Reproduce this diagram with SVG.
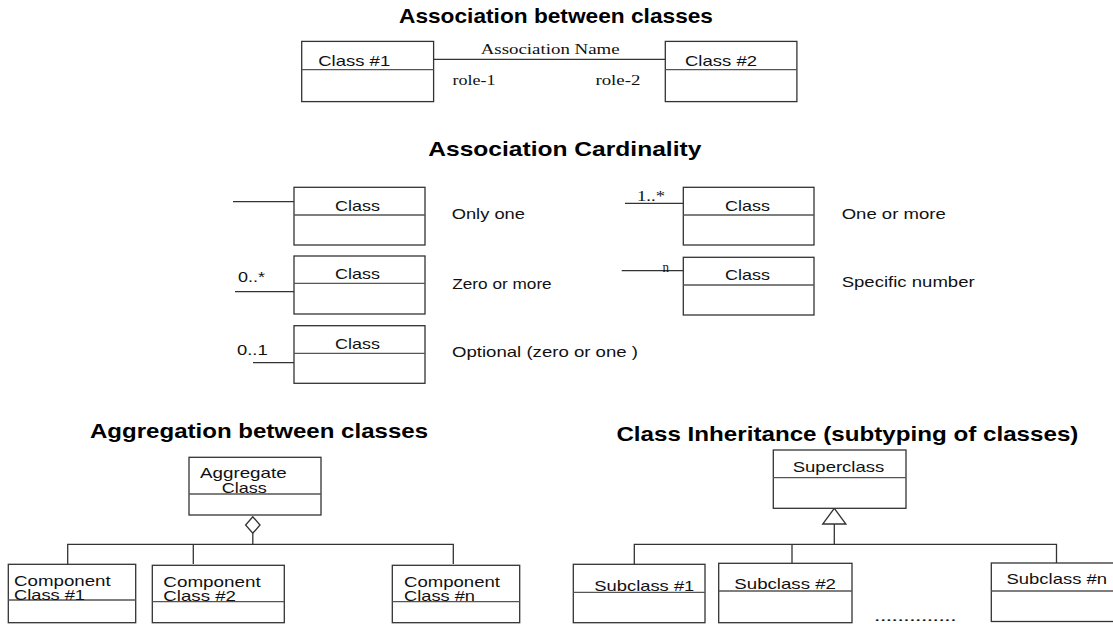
<svg xmlns="http://www.w3.org/2000/svg" width="1113" height="624" viewBox="0 0 1113 624">
<style>
.box{fill:#fff;stroke:#333;stroke-width:1.3}
.div{stroke:#555;stroke-width:1.3}
.ln{stroke:#333;stroke-width:1.3;fill:none}
.tt{font-family:"Liberation Sans",Arial,sans-serif;font-weight:bold;font-size:21px;fill:#000}
.t{font-family:"Liberation Sans",Arial,sans-serif;font-size:15px;fill:#111}
.s{font-family:"Liberation Serif","Times New Roman",serif;font-size:15px;fill:#111}
.head{fill:#fff;stroke:#333;stroke-width:1.3}
</style>
<rect width="1113" height="624" fill="#fff"/>

<!-- titles -->
<text class="tt" x="399" y="23" textLength="314" lengthAdjust="spacingAndGlyphs">Association between classes</text>
<text class="tt" x="428.3" y="156" textLength="273" lengthAdjust="spacingAndGlyphs">Association Cardinality</text>
<text class="tt" x="90" y="438" textLength="338" lengthAdjust="spacingAndGlyphs">Aggregation between classes</text>
<text class="tt" x="616.4" y="441" textLength="462" lengthAdjust="spacingAndGlyphs">Class Inheritance (subtyping of classes)</text>

<!-- connectors -->
<g id="connectors">
  <line class="ln" x1="433.6" y1="59.3" x2="665.3" y2="59.3"/>
  <line class="ln" x1="233" y1="201.7" x2="294" y2="201.7"/>
  <line class="ln" x1="235" y1="291.7" x2="294" y2="291.7"/>
  <line class="ln" x1="253" y1="362.7" x2="294" y2="362.7"/>
  <line class="ln" x1="625" y1="203.3" x2="683.3" y2="203.3"/>
  <line class="ln" x1="621.7" y1="270.7" x2="683.3" y2="270.7"/>
  <!-- aggregation -->
  <polygon class="head" points="252.8,516.7 245.6,525 252.8,533.3 260,525"/>
  <polyline class="ln" points="252.8,533.3 252.8,544.3"/>
  <polyline class="ln" points="67.7,564 67.7,544.3 453.3,544.3 453.3,564"/>
  <line class="ln" x1="193.3" y1="544.3" x2="193.3" y2="564"/>
  <!-- inheritance -->
  <polygon class="head" points="834.3,508.3 822.7,524 845.9,524"/>
  <polyline class="ln" points="834.3,524 834.3,544.3"/>
  <polyline class="ln" points="634.3,564 634.3,544.3 1056.5,544.3 1056.5,563"/>
  <line class="ln" x1="792" y1="544.3" x2="792" y2="563.3"/>
</g>
<text class="s" x="480.7" y="54.1" textLength="139" lengthAdjust="spacingAndGlyphs">Association Name</text>
<text class="s" x="452.5" y="85.1" textLength="43" lengthAdjust="spacingAndGlyphs">role-1</text>
<text class="s" x="595.4" y="85.1" textLength="45" lengthAdjust="spacingAndGlyphs">role-2</text>
<text class="t" x="238" y="281.7" textLength="27" lengthAdjust="spacingAndGlyphs">0..*</text>
<text class="t" x="237" y="355" textLength="30.7" lengthAdjust="spacingAndGlyphs">0..1</text>
<text class="s" x="637" y="200.7" textLength="28" lengthAdjust="spacingAndGlyphs">1..*</text>
<text class="s" x="662.5" y="272" textLength="6.5" lengthAdjust="spacingAndGlyphs">n</text>

<!-- association -->
<g id="class1">
  <rect class="box" x="301.7" y="41.4" width="131.9" height="60.2"/>
  <line class="div" x1="301.7" y1="69.6" x2="433.6" y2="69.6"/>
  <text class="t" x="318.2" y="66.2" textLength="72" lengthAdjust="spacingAndGlyphs">Class #1</text>
</g>
<g id="class2">
  <rect class="box" x="665.3" y="41.4" width="131.6" height="60.2"/>
  <line class="div" x1="665.3" y1="69.6" x2="796.9" y2="69.6"/>
  <text class="t" x="685" y="66.2" textLength="72" lengthAdjust="spacingAndGlyphs">Class #2</text>
</g>

<!-- cardinality -->
<g id="card-one">
  <rect class="box" x="294" y="187.3" width="131" height="57.7"/>
  <line class="div" x1="294" y1="215" x2="425" y2="215"/>
  <text class="t" x="335" y="210.7" textLength="45" lengthAdjust="spacingAndGlyphs">Class</text>
  <text class="t" x="451.7" y="219.3" textLength="73.3" lengthAdjust="spacingAndGlyphs">Only one</text>
</g>
<g id="card-zero-more">
  <rect class="box" x="294" y="256" width="131" height="58"/>
  <line class="div" x1="294" y1="283.3" x2="425" y2="283.3"/>
  <text class="t" x="335" y="279.3" textLength="45" lengthAdjust="spacingAndGlyphs">Class</text>
  <text class="t" x="452.3" y="289.3" textLength="99.4" lengthAdjust="spacingAndGlyphs">Zero or more</text>
</g>
<g id="card-optional">
  <rect class="box" x="294" y="325.7" width="131" height="57.6"/>
  <line class="div" x1="294" y1="353.3" x2="425" y2="353.3"/>
  <text class="t" x="335" y="349.3" textLength="45" lengthAdjust="spacingAndGlyphs">Class</text>
  <text class="t" x="452" y="357" textLength="186" lengthAdjust="spacingAndGlyphs">Optional (zero or one )</text>
</g>
<g id="card-one-more">
  <rect class="box" x="683.3" y="187.3" width="130.7" height="57.7"/>
  <line class="div" x1="683.3" y1="215" x2="814" y2="215"/>
  <text class="t" x="725" y="210.7" textLength="45" lengthAdjust="spacingAndGlyphs">Class</text>
  <text class="t" x="841.7" y="219.3" textLength="104" lengthAdjust="spacingAndGlyphs">One or more</text>
</g>
<g id="card-specific">
  <rect class="box" x="683.3" y="257.3" width="130.7" height="57.7"/>
  <line class="div" x1="683.3" y1="285" x2="814" y2="285"/>
  <text class="t" x="725" y="280" textLength="45" lengthAdjust="spacingAndGlyphs">Class</text>
  <text class="t" x="841.7" y="287" textLength="133" lengthAdjust="spacingAndGlyphs">Specific number</text>
</g>

<!-- aggregation -->
<g id="aggregate">
  <rect class="box" x="189" y="457.3" width="132" height="57.7"/>
  <line class="div" x1="189" y1="494" x2="321" y2="494"/>
  <text class="t" x="200" y="478.3" textLength="86.7" lengthAdjust="spacingAndGlyphs">Aggregate</text>
  <text class="t" x="221.7" y="493.3" textLength="45" lengthAdjust="spacingAndGlyphs">Class</text>
</g>
<g id="comp1">
  <rect class="box" x="8.3" y="564.3" width="127.4" height="58.4"/>
  <line class="div" x1="8.3" y1="600" x2="135.7" y2="600"/>
  <text class="t" x="14" y="586" textLength="96.7" lengthAdjust="spacingAndGlyphs">Component</text>
  <text class="t" x="14" y="599.5" textLength="71" lengthAdjust="spacingAndGlyphs">Class #1</text>
</g>
<g id="comp2">
  <rect class="box" x="152.3" y="565.3" width="132" height="57.4"/>
  <line class="div" x1="152.3" y1="601.7" x2="284.3" y2="601.7"/>
  <text class="t" x="163.3" y="587.3" textLength="97.4" lengthAdjust="spacingAndGlyphs">Component</text>
  <text class="t" x="163.3" y="600.7" textLength="72.7" lengthAdjust="spacingAndGlyphs">Class #2</text>
</g>
<g id="compn">
  <rect class="box" x="392.3" y="565.3" width="127.4" height="57.4"/>
  <line class="div" x1="392.3" y1="601.7" x2="519.7" y2="601.7"/>
  <text class="t" x="404" y="587.3" textLength="96" lengthAdjust="spacingAndGlyphs">Component</text>
  <text class="t" x="404" y="600.7" textLength="71" lengthAdjust="spacingAndGlyphs">Class #n</text>
</g>

<!-- inheritance -->
<g id="superclass">
  <rect class="box" x="773.3" y="450" width="132.7" height="58.3"/>
  <line class="div" x1="773.3" y1="477.7" x2="906" y2="477.7"/>
  <text class="t" x="792.7" y="471.7" textLength="91.6" lengthAdjust="spacingAndGlyphs">Superclass</text>
</g>
<g id="sub1">
  <rect class="box" x="573.3" y="564.3" width="131.7" height="58.4"/>
  <line class="div" x1="573.3" y1="592.3" x2="705" y2="592.3"/>
  <text class="t" x="594.3" y="590.7" textLength="100" lengthAdjust="spacingAndGlyphs">Subclass #1</text>
</g>
<g id="sub2">
  <rect class="box" x="718.7" y="563.3" width="133.3" height="59.4"/>
  <line class="div" x1="718.7" y1="591" x2="852" y2="591"/>
  <text class="t" x="734.3" y="589.3" textLength="101.7" lengthAdjust="spacingAndGlyphs">Subclass #2</text>
</g>
<g id="subn">
  <rect class="box" x="991.3" y="563" width="140" height="58.5"/>
  <line class="div" x1="991.3" y1="591" x2="1131" y2="591"/>
  <text class="t" x="1006.5" y="584" textLength="100.5" lengthAdjust="spacingAndGlyphs">Subclass #n</text>
</g>
<text class="s" x="874.3" y="621" textLength="82" lengthAdjust="spacingAndGlyphs">..............</text>
</svg>
